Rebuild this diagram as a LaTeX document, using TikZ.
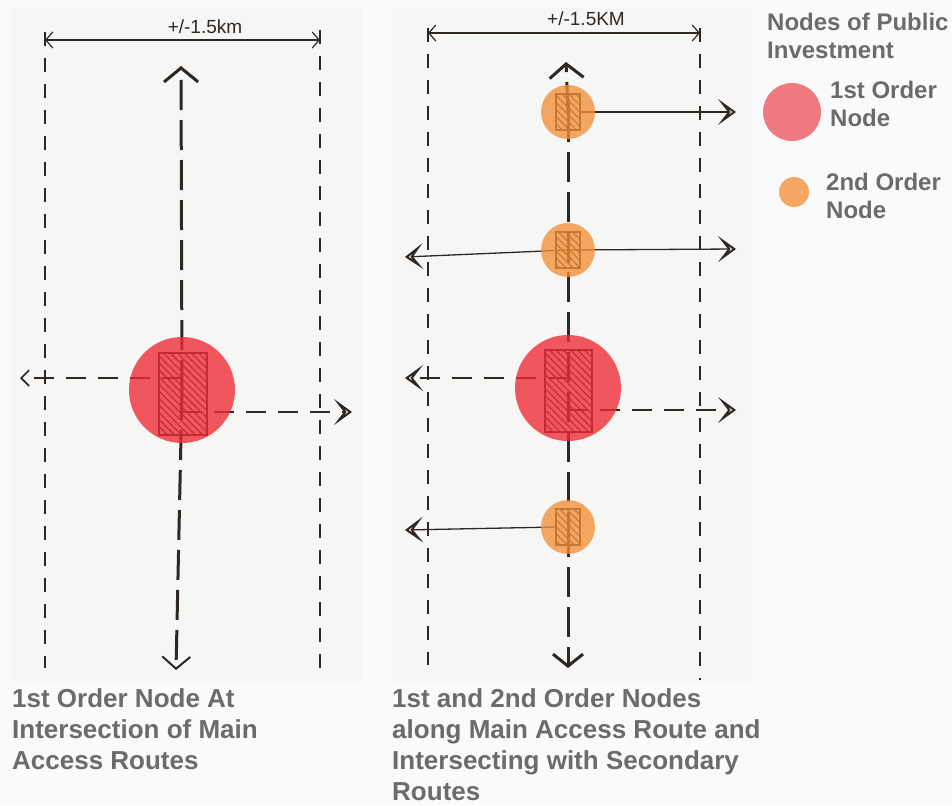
\documentclass[tikz,border=0pt]{standalone}
\usepackage{fontspec}
\setmainfont{Liberation Sans}
\usetikzlibrary{arrows.meta,patterns.meta}
\definecolor{ink}{HTML}{2F2626}
\definecolor{pagebg}{HTML}{F9FAFC}
\definecolor{paper}{HTML}{F6F6F5}
\definecolor{rednode}{HTML}{F02A35}
\definecolor{orangenode}{HTML}{F39035}
\definecolor{legred}{HTML}{F07A80}
\definecolor{legorange}{HTML}{F5A865}
\definecolor{captext}{HTML}{6B6B6B}
\pgfdeclarelayer{fg}
\pgfsetlayers{main,fg}
\tikzset{
  border/.style={ink, line width=1.3pt, dash pattern=on 14pt off 12pt},
  mainroute/.style={ink, line width=3pt, dash pattern=on 30pt off 10pt},
  secroute/.style={ink, line width=1.3pt},
  secdash/.style={ink, line width=2.4pt, dash pattern=on 20pt off 12pt},
  dimline/.style={ink, line width=1.2pt, {Straight Barb[length=7pt,width=16pt]}-{Straight Barb[length=7pt,width=16pt]}},
  bigtip/.style={-{Straight Barb[length=14pt,width=34pt]}},
  hollowtip/.style={-{Stealth[open,length=18pt,width=26pt,inset=10pt,line width=2pt]}},
  hatchbox/.style={draw=ink, line width=1.2pt, pattern={Lines[angle=-45,distance=5pt,line width=1.1pt]}, pattern color=ink},
  firstnode/.style={circle, fill=rednode, fill opacity=0.78, minimum size=#1, inner sep=0pt},
  secondnode/.style={circle, fill=orangenode, fill opacity=0.78, minimum size=54pt, inner sep=0pt},
  dimtext/.style={ink, font=\fontsize{19}{19}\selectfont},
  caption/.style={anchor=north west, align=left, inner sep=0pt, text=captext, font=\fontsize{26}{31}\selectfont\bfseries},
  legtext/.style={anchor=north west, align=left, inner sep=0pt, text=captext, font=\fontsize{24}{28}\selectfont\bfseries}
}
\begin{document}
\begin{tikzpicture}[x=1pt,y=-1pt]
\useasboundingbox (0,0) rectangle (952,805);
\fill[pagebg] (0,0) rectangle (952,805);
\fill[paper] (12,8) rectangle (362,682);
\fill[paper] (392,8) rectangle (752,682);

% ---------- Left panel ----------
\coordinate (lb1t) at (45,32);  \coordinate (lb1b) at (45,668);
\coordinate (lb2t) at (320,30); \coordinate (lb2b) at (320,680);
\coordinate (ld1) at (45,40);   \coordinate (ld2) at (320,40);
\coordinate (lmt) at (181,66);  \coordinate (lmb) at (176,670);
\coordinate (lw) at (20,378);   \coordinate (le) at (352,412);
\coordinate (lc) at (182,390);
\draw[border] (lb1t) -- (lb1b);
\draw[border] (lb2t) -- (lb2b);
\draw[dimline] (ld1) -- (ld2);
\node[dimtext] (ltext) at (205,27) {+/-1.5km};
\draw[hatchbox] (159,353) rectangle (207,435);
\draw[mainroute, bigtip] (lc) -- (lmt);
\draw[mainroute, -{Straight Barb[length=12pt,width=28pt,line width=2pt]}] (lc) -- (lmb);
\draw[secdash, -{Straight Barb[length=8pt,width=16pt,line width=1.6pt]}] (182,378) -- (lw);
\draw[secdash, hollowtip] (182,412) -- (le);
\begin{pgfonlayer}{fg}
\node[firstnode=106pt] (n1) at (lc) {};
\end{pgfonlayer}

% ---------- Right panel ----------
\coordinate (rb1t) at (428,28);  \coordinate (rb1b) at (428,665);
\coordinate (rb2t) at (700,28);  \coordinate (rb2b) at (700,680);
\coordinate (rd1) at (428,33);   \coordinate (rd2) at (700,33);
\coordinate (rmt) at (566,62);   \coordinate (rmb) at (568,668);
\draw[border] (rb1t) -- (rb1b);
\draw[border] (rb2t) -- (rb2b);
\draw[dimline] (rd1) -- (rd2);
\node[dimtext] (rtext) at (586,19) {+/-1.5KM};

\coordinate (c1) at (568,112);
\coordinate (c2) at (568,250);
\coordinate (c3) at (568,388);
\coordinate (c4) at (568,527);
\coordinate (e1) at (736,112);
\coordinate (w2) at (405,257);
\coordinate (e2) at (736,249);
\coordinate (w3) at (405,378);
\coordinate (e3) at (736,410);
\coordinate (w4) at (405,530);

\foreach \c in {c1,c2,c4}{
  \draw[hatchbox] ([shift={(-12,-18)}]\c) rectangle ([shift={(12,18)}]\c);
  \draw[ink, line width=3pt] ([shift={(0,-13)}]\c) -- ([shift={(0,13)}]\c);
}
\draw[hatchbox] (545,350) rectangle (592,432);

\draw[mainroute, bigtip] (c1) -- (rmt);
\draw[mainroute] (c1) -- (c4);
\draw[mainroute, -{Straight Barb[length=12pt,width=30pt,line width=3pt]}] (c4) -- (rmb);

\draw[secroute, hollowtip] (580,112) -- (e1);
\draw[secroute, hollowtip] (c2) -- (w2);
\draw[secroute, hollowtip] (c2) -- (e2);
\draw[secdash, hollowtip] (568,378) -- (w3);
\draw[secdash, hollowtip] (568,410) -- (e3);
\draw[secroute, hollowtip] (556,527) -- (w4);

\begin{pgfonlayer}{fg}
\node[secondnode] (o1) at (c1) {};
\node[secondnode] (o2) at (c2) {};
\node[firstnode=106pt] (r1) at (c3) {};
\node[secondnode] (o3) at (c4) {};
\end{pgfonlayer}

% ---------- Legend ----------
\node[legtext] (legtitle) at (767,13) {Nodes of Public\\Investment};
\node[circle, fill=legred, minimum size=58pt, inner sep=0pt] (legr) at (792,112) {};
\node[legtext] (legrt) at (830,81) {1st Order\\Node};
\node[circle, fill=legorange, minimum size=30pt, inner sep=0pt] (lego) at (794,192) {};
\node[legtext] (legot) at (826,173) {2nd Order\\Node};

% ---------- Captions ----------
\node[caption] (capl) at (12,688) {1st Order Node At\\Intersection of Main\\Access Routes};
\node[caption] (capr) at (392,688) {1st and 2nd Order Nodes\\along Main Access Route and\\Intersecting with Secondary\\Routes};
\end{tikzpicture}
\end{document}
